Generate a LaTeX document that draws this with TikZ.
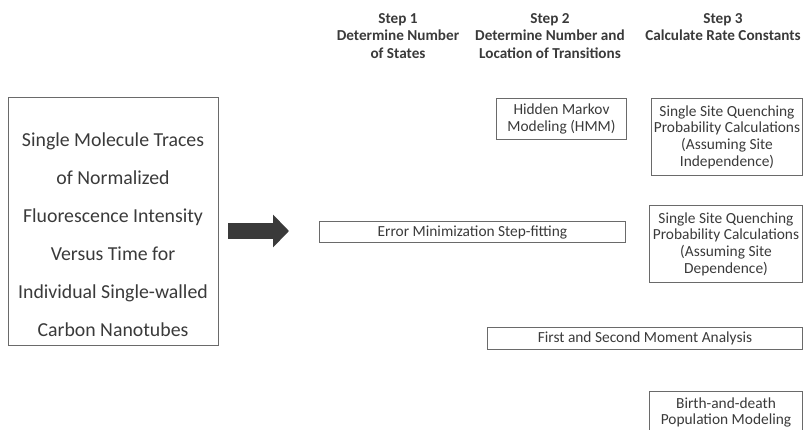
\documentclass[tikz,border=0pt]{standalone}
\usepackage{fontspec}
\setmainfont{Carlito}
\usetikzlibrary{positioning,arrows.meta}
\definecolor{inkgray}{HTML}{3A3A3A}
\definecolor{framegray}{HTML}{6A6A6A}
\tikzset{
  methodbox/.style = {draw = framegray, line width = 0.5pt, anchor = north west,
    inner sep = 1pt, align = center, text = inkgray,
    font = \fontsize{7.7}{8.3}\selectfont},
  stephead/.style = {anchor = north, inner sep = 0pt, align = center,
    text = inkgray, font = \bfseries\fontsize{7.6}{8.8}\selectfont},
}
\begin{document}
\begin{tikzpicture}[x = 0.5pt, y = -0.5pt]%
    \useasboundingbox (0, 0) rectangle (804, 429);
    \clip (0, 0) rectangle (804, 429);
    % column headings
    \node[stephead] (step1) at (398, 13) {Step 1\\Determine Number\\of States};
    \node[stephead] (step2) at (550, 13) {Step 2\\Determine Number and\\Location of Transitions};
    \node[stephead] (step3) at (723, 13) {Step 3\\Calculate Rate Constants};
    % input data
    \node[draw = framegray, line width = 0.5pt, minimum width = 105pt,
          minimum height = 124pt] (traces) at (113, 221) {};
    \node[align = center, text = inkgray, font = \fontsize{9.9}{19}\selectfont]
          (tracestext) at (113, 235) {Single Molecule Traces\\of Normalized\\Fluorescence Intensity\\Versus Time for\\Individual Single-walled\\Carbon Nanotubes};
    \coordinate (arrowstart) at (228, 231);
    \coordinate (arrowend) at (289, 231);
    \draw[inkgray, line width = 8pt, -{Triangle[length = 8pt, width = 16pt]}]
          (arrowstart) -- (arrowend);
    % methods
    \node[methodbox, minimum width = 65pt, minimum height = 20.5pt] (hmm) at (496, 98)
          {Hidden Markov\\Modeling (HMM)};
    \node[methodbox, minimum width = 75.5pt, minimum height = 38.5pt] (indep) at (651, 98)
          {Single Site Quenching\\Probability Calculations\\(Assuming Site\\Independence)};
    \node[methodbox, minimum width = 153pt, minimum height = 10.5pt] (stepfit) at (319, 221)
          {Error Minimization Step-fitting};
    \node[methodbox, minimum width = 76.5pt, minimum height = 38.5pt] (dep) at (649, 205)
          {Single Site Quenching\\Probability Calculations\\(Assuming Site\\Dependence)};
    \node[methodbox, minimum width = 157.5pt, minimum height = 11pt] (moment) at (487, 327)
          {First and Second Moment Analysis};
    \node[methodbox, minimum width = 76.5pt, minimum height = 21pt] (birth) at (649, 391)
          {Birth-and-death\\Population Modeling};
\end{tikzpicture}
\end{document}
